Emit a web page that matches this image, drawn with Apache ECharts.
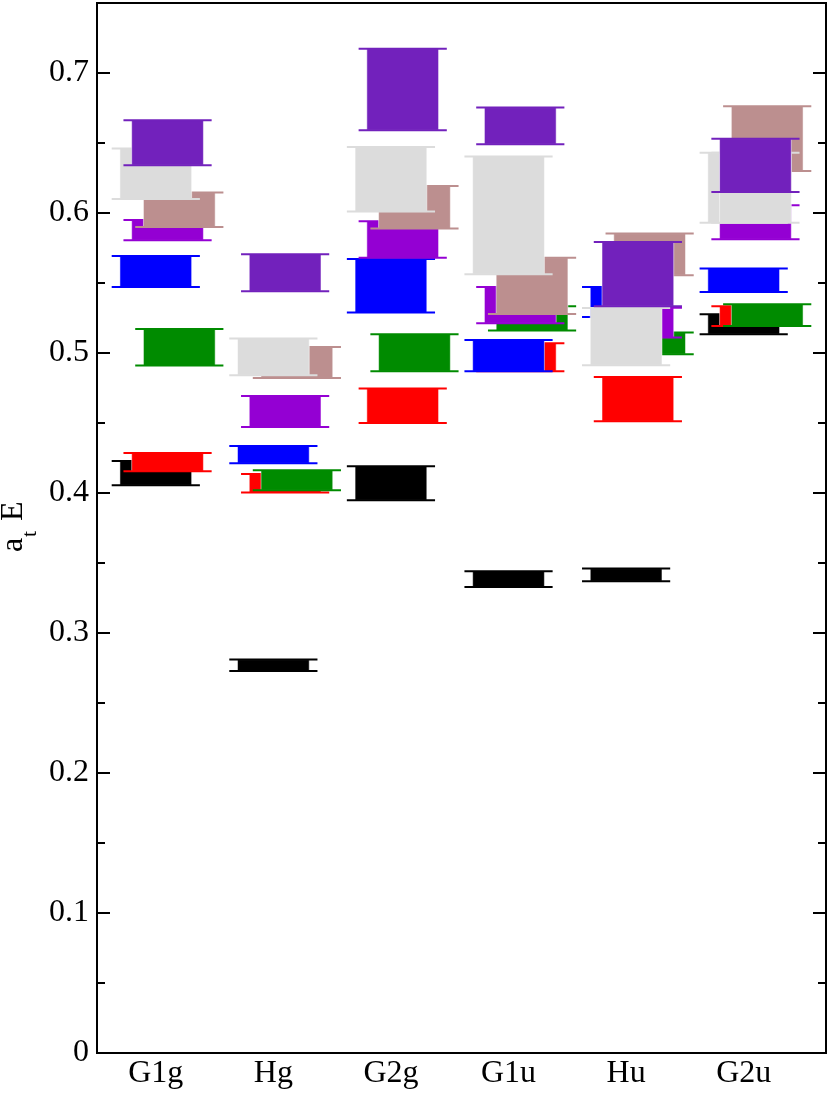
<!DOCTYPE html>
<html>
<head>
<meta charset="utf-8">
<script src="https://cdn.jsdelivr.net/npm/echarts@6/dist/echarts.min.js"></script>
<style>
  html, body { margin: 0; padding: 0; background: #fff; }
  #chart { width: 830px; height: 1094px; }
</style>
</head>
<body>
<div id="chart"></div>
<script>
// irreps along the x axis
const irreps = ['G1g', 'Hg', 'G2g', 'G1u', 'Hu', 'G2u'];
const yTickLabels = ['0', '0.1', '0.2', '0.3', '0.4', '0.5', '0.6', '0.7'];

// energy bands per level, [low, high] for each irrep
const lev1 = [[0.4055, 0.4229], [0.2729, 0.2810], [0.3948, 0.4191], [0.3329, 0.3441], [0.3369, 0.3460], [0.5134, 0.5276]];
const lev2 = [[0.4155, 0.4286], [0.4003, 0.4136], [0.4500, 0.4746], [0.4869, 0.5070], [0.4512, 0.4829], [0.5193, 0.5334]];
const lev3 = [[0.4910, 0.5171], [0.4019, 0.4162], [0.4869, 0.5134], [0.5160, 0.5334], [0.4991, 0.5146], [0.5193, 0.5348]];
const lev4 = [[0.5471, 0.5693], [0.4212, 0.4336], [0.5289, 0.5671], [0.4869, 0.5093], [0.5257, 0.5471], [0.5436, 0.5603]];
const lev5 = [[0.5805, 0.5950], [0.4471, 0.4693], [0.5681, 0.5941], [0.5212, 0.5471], [0.5110, 0.5324], [0.5812, 0.6055]];
const lev6 = [[0.5900, 0.6146], [0.4821, 0.5043], [0.5889, 0.6193], [0.5279, 0.5681], [0.5555, 0.5853], [0.6300, 0.6762]];
const lev7 = [[0.6100, 0.6460], [0.4841, 0.5103], [0.6010, 0.6471], [0.5562, 0.6403], [0.4912, 0.5321], [0.5931, 0.6431]];
const lev7b = [null, null, null, null, null, [0.5931, 0.6431]];
const lev8 = [[0.6341, 0.6662], [0.5441, 0.5705], [0.6591, 0.7174], [0.6491, 0.6753], [0.5334, 0.5793], [0.6150, 0.6531]];

// drawing order, colour and sideways shift of each level
const levels = [
  { data: lev1, color: '#000000', shift: 0 },
  { data: lev2, color: '#ff0000', shift: 1 },
  { data: lev3, color: '#008b00', shift: 2 },
  { data: lev4, color: '#0000ff', shift: 0 },
  { data: lev5, color: '#9400d3', shift: 1 },
  { data: lev6, color: '#bc8f8f', shift: 2 },
  { data: lev7, color: '#dcdcdc', shift: 0 },
  { data: lev7b, color: '#dcdcdc', shift: 1 },
  { data: lev8, color: '#7221bc', shift: 1 }
];

const BOX_HALF = 0.305;
const CAP_HALF = 0.375;
const SHIFT = 0.1;
const FONT = '"Liberation Serif", "Times New Roman", serif';

function renderBand(params, api) {
  const x = api.value(0);
  const lo = api.value(1);
  const hi = api.value(2);
  const tl = api.coord([x - BOX_HALF, hi]);
  const br = api.coord([x + BOX_HALF, lo]);
  const capL = api.coord([x - CAP_HALF, hi])[0];
  const capR = api.coord([x + CAP_HALF, hi])[0];
  const color = api.visual('color');
  return {
    type: 'group',
    children: [
      {
        type: 'rect',
        shape: { x: tl[0], y: tl[1], width: br[0] - tl[0], height: br[1] - tl[1] },
        style: { fill: color, stroke: 'rgba(255,255,255,0.5)', lineWidth: 1 }
      },
      {
        type: 'line',
        shape: { x1: capL, y1: tl[1], x2: capR, y2: tl[1] },
        style: { stroke: color, lineWidth: 2 }
      },
      {
        type: 'line',
        shape: { x1: capL, y1: br[1], x2: capR, y2: br[1] },
        style: { stroke: color, lineWidth: 2 }
      }
    ]
  };
}

const series = levels.map(function (lev) {
  const data = [];
  lev.data.forEach(function (band, i) {
    if (band) data.push([i + 1 + lev.shift * SHIFT, band[0], band[1]]);
  });
  return {
    type: 'custom',
    renderItem: renderBand,
    itemStyle: { color: lev.color },
    encode: { x: 0, y: [1, 2] },
    data: data,
    silent: true
  };
});

function yAxisDef(pos, interval, len, labels) {
  return {
    type: 'value',
    position: pos,
    min: 0,
    max: 0.75,
    interval: interval,
    axisLine: { show: labels, lineStyle: { color: '#000', width: 2 } },
    axisTick: { show: true, inside: true, length: len, lineStyle: { color: '#000', width: 2 } },
    axisLabel: {
      show: labels,
      showMaxLabel: false,
      margin: 8,
      color: '#000',
      fontFamily: FONT,
      fontSize: 32,
      formatter: function (v) {
        const i = Math.round(v * 10);
        return Math.abs(v * 10 - i) < 1e-6 && i < yTickLabels.length ? yTickLabels[i] : '';
      }
    },
    splitLine: { show: false }
  };
}

const chart = echarts.init(document.getElementById('chart'));
chart.setOption({
  backgroundColor: '#fff',
  animation: false,
  grid: { left: 97, right: 4, top: 3, bottom: 41, show: true, borderColor: '#000', borderWidth: 2, backgroundColor: 'transparent' },
  xAxis: {
    type: 'value',
    min: 0.5,
    max: 6.7,
    axisLine: { show: true, lineStyle: { color: '#000', width: 2 } },
    axisTick: { show: false },
    splitLine: { show: false },
    axisLabel: {
      customValues: [1, 2, 3, 4, 5, 6],
      margin: 5,
      color: '#000',
      fontFamily: FONT,
      fontSize: 32,
      formatter: function (v) { return irreps[Math.round(v) - 1] || ''; }
    }
  },
  yAxis: [
    yAxisDef('left', 0.1, 13, true),
    yAxisDef('left', 0.05, 8, false),
    yAxisDef('right', 0.1, 13, false),
    yAxisDef('right', 0.05, 8, false)
  ],
  graphic: [{
    type: 'group',
    x: 25,
    y: 527,
    rotation: Math.PI / 2,
    children: [
      { type: 'text', x: -25, y: -11, style: { text: 'a', font: '32px ' + FONT, fill: '#000', verticalAlign: 'middle', align: 'left' } },
      { type: 'text', x: -10, y: 13 - 7.5, style: { text: 't', font: '22px ' + FONT, fill: '#000', verticalAlign: 'middle', align: 'left' } },
      { type: 'text', x: 6, y: -11, style: { text: 'E', font: '32px ' + FONT, fill: '#000', verticalAlign: 'middle', align: 'left' } }
    ]
  }],
  series: series
});
</script>
</body>
</html>
